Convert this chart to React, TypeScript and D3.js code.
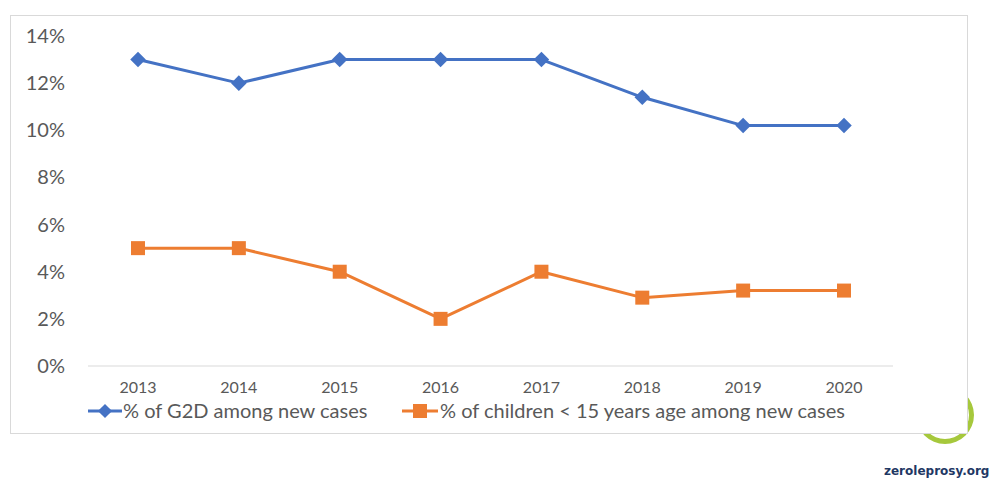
import React from "react";
import * as d3 from "d3";

const years = ["2013", "2014", "2015", "2016", "2017", "2018", "2019", "2020"];
const g2d = [13, 12, 13, 13, 13, 11.4, 10.2, 10.2];
const children = [5, 5, 4, 2, 4, 2.9, 3.2, 3.2];
const yTicks = [0, 2, 4, 6, 8, 10, 12, 14];
const seriesNames = ["% of G2D among new cases", "% of children < 15 years age among new cases"];

const BLUE = "#4472C4";
const ORANGE = "#ED7D31";
const FONT = "Lato, sans-serif";

export default function App() {
  const W = 992, H = 478;
  const x = d3.scalePoint<string>().domain(years).range([138, 844]);
  const y = d3.scaleLinear().domain([0, 14]).range([366, 36]);
  const line = d3.line<number>().x((_, i) => x(years[i])!).y((d) => y(d));
  const arc = d3.arc()({ innerRadius: 24, outerRadius: 29, startAngle: 0, endAngle: Math.PI * 2 });
  return (
    <svg width={W} height={H} style={{ position: "absolute", left: 0, top: 0, background: "#fff" }}>
      <g transform="translate(945,415)">
        <path d={arc!} fill="#A6C83C" />
      </g>
      <rect x={10.5} y={15.5} width={957} height={418} fill="#fff" stroke="#D9D9D9" />
      <line x1={88} x2={893} y1={y(0)} y2={y(0)} stroke="#D9D9D9" strokeWidth={1} />
      {yTicks.map((t) => (
        <text key={t} x={65} y={y(t)} dy="0.35em" textAnchor="end" fontFamily={FONT} fontSize={20} fill="#595959">
          {t}%
        </text>
      ))}
      {years.map((yr) => (
        <text key={yr} x={x(yr)} y={393} textAnchor="middle" fontFamily={FONT} fontSize={16} fill="#595959">
          {yr}
        </text>
      ))}
      <path d={line(g2d)!} fill="none" stroke={BLUE} strokeWidth={3} strokeLinejoin="round" />
      <path d={line(children)!} fill="none" stroke={ORANGE} strokeWidth={3} strokeLinejoin="round" />
      {g2d.map((v, i) => (
        <rect key={"b" + i} x={-5.5} y={-5.5} width={11} height={11} fill={BLUE}
          transform={`translate(${x(years[i])},${y(v)}) rotate(45)`} />
      ))}
      {children.map((v, i) => (
        <rect key={"o" + i} x={x(years[i])! - 7} y={y(v) - 7} width={14} height={14} fill={ORANGE} />
      ))}
      <g>
        <line x1={88} x2={122} y1={411} y2={411} stroke={BLUE} strokeWidth={3} />
        <rect x={-5} y={-5} width={10} height={10} fill={BLUE} transform="translate(105,411) rotate(45)" />
        <text x={123} y={411} dy="0.35em" fontFamily={FONT} fontSize={20} fill="#595959">{seriesNames[0]}</text>
        <line x1={402} x2={438} y1={411} y2={411} stroke={ORANGE} strokeWidth={3} />
        <rect x={413} y={404} width={14} height={14} fill={ORANGE} />
        <text x={440} y={411} dy="0.35em" fontFamily={FONT} fontSize={20} fill="#595959">{seriesNames[1]}</text>
      </g>
      <text x={884} y={475} fontFamily="DejaVu Sans, sans-serif" fontWeight="bold" fontSize={12} fill="#1F3864">zeroleprosy.org</text>
    </svg>
  );
}
